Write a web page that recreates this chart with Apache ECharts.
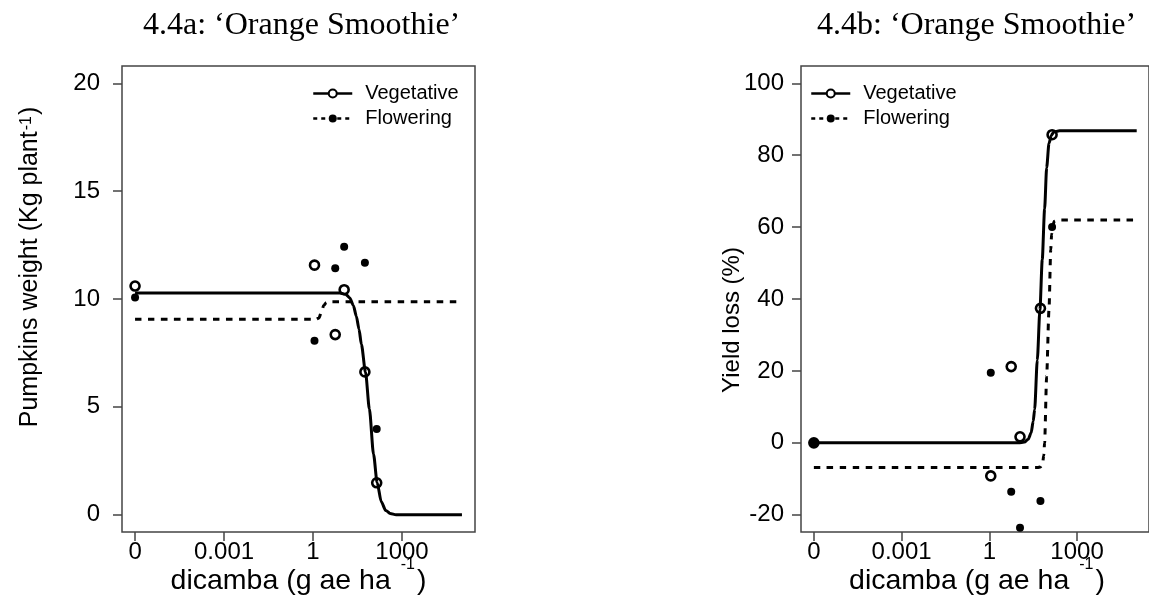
<!DOCTYPE html>
<html lang="en">
<head>
<meta charset="UTF-8">
<script src="https://cdn.jsdelivr.net/npm/echarts@6/dist/echarts.min.js"></script>
<style>
    * { margin: 0; padding: 0; }
    body { background: #fff; }
    #chart { width: 1149px; height: 598px; }
</style>
</head>
<body>
<div id="chart"></div>
<script>
    // dicamba doses (g ae ha-1), 0 sits on the broken log axis at 1e-6
    var doses = [0, 1.12, 5.6, 11.2, 56, 140];

    // 4.4a pumpkins weight (kg plant-1)
    var weightVeg  = [10.6, 11.57, 8.35, 10.43, 6.62, 1.48];
    var weightFlow = [10.07, 8.07, 11.42, 12.42, 11.68, 3.98];

    // 4.4b yield loss (%)
    var lossVeg  = [0, -9.2, 21.2, 1.67, 37.4, 85.7];
    var lossFlow = [0, 19.5, -13.6, -23.6, -16.2, 60.0];

    // fitted curves, x is log10(dose)
    var wVegCurveX  = [-6, 0.9, 1.1, 1.24, 1.36, 1.46, 1.55, 1.63, 1.77, 1.9, 2.04, 2.16, 2.3, 2.45, 2.6, 2.8, 5.02];
    var wVegCurveY  = [10.28, 10.28, 10.22, 10.05, 9.7, 9.2, 8.6, 7.9, 6.6, 4.9, 2.8, 1.5, 0.6, 0.2, 0.06, 0, 0];
    var wFlowCurveX = [-6, 0.1, 0.2, 0.28, 0.36, 0.45, 0.56, 5.02];
    var wFlowCurveY = [9.06, 9.06, 9.12, 9.4, 9.7, 9.84, 9.87, 9.87];

    var lVegCurveX  = [-6, 1.0, 1.2, 1.33, 1.43, 1.5, 1.55, 1.64, 1.73, 1.81, 1.89, 1.96, 2.04, 2.12, 2.2, 2.4, 5.04];
    var lVegCurveY  = [0, 0, 0.2, 1.0, 2.8, 6, 9.3, 23, 37, 51, 65, 76.5, 83.3, 85.5, 86.4, 86.8, 86.8];
    var lFlowCurveX = [-6, 1.65, 1.75, 1.82, 1.86, 1.89, 1.96, 2.04, 2.1, 2.13, 2.17, 2.22, 2.35, 5.04];
    var lFlowCurveY = [-6.86, -6.86, -6.7, -5.8, -3.5, 0, 18.5, 37, 53.7, 58, 60.5, 61.6, 62, 62];

    var xTickDoses  = [0, 0.001, 1, 1000];
    var xTickLabels = ['0', '0.001', '1', '1000'];
    var weightTicks = [0, 5, 10, 15, 20];
    var lossTicks   = [-20, 0, 20, 40, 60, 80, 100];

    var SANS = "'Liberation Sans', Arial, sans-serif";
    var SERIF = "'Liberation Serif', 'Times New Roman', serif";

    function pos(d) {
        return d === 0 ? -6 : Math.log10(d);
    }
    function zip(xs, ys) {
        var out = [];
        for (var i = 0; i < xs.length; i++) out.push([xs[i], ys[i]]);
        return out;
    }
    function pts(ys) {
        var out = [];
        for (var i = 0; i < doses.length; i++) out.push([pos(doses[i]), ys[i]]);
        return out;
    }
    var xTickPos = xTickDoses.map(pos);

    function xAxis(idx) {
        return {
            type: 'value', gridIndex: idx, min: -6.44, max: 5.46, position: 'bottom',
            axisLine: { show: false, onZero: false },
            splitLine: { show: false },
            axisTick: { show: true, customValues: xTickPos, length: 9, lineStyle: { color: '#444', width: 1.5 } },
            axisLabel: {
                customValues: xTickPos, margin: 8, fontSize: 24, fontFamily: SANS, color: '#000',
                formatter: function (v) {
                    for (var i = 0; i < xTickPos.length; i++) {
                        if (Math.abs(xTickPos[i] - v) < 1e-6) return xTickLabels[i];
                    }
                    return '';
                }
            }
        };
    }
    function yAxis(idx, min, max, ticks, margin) {
        return {
            type: 'value', gridIndex: idx, min: min, max: max, position: 'left',
            axisLine: { show: false, onZero: false },
            splitLine: { show: false },
            axisTick: { show: true, customValues: ticks, length: 9, lineStyle: { color: '#444', width: 1.5 } },
            axisLabel: { customValues: ticks, margin: margin, fontSize: 24, fontFamily: SANS, color: '#000' }
        };
    }

    function curve(name, idx, data, dashed) {
        return {
            name: name, type: 'line', xAxisIndex: idx, yAxisIndex: idx,
            data: data, smooth: 0.25, smoothMonotone: 'x',
            symbol: dashed ? 'circle' : 'emptyCircle', showSymbol: false,
            itemStyle: { color: '#000' },
            lineStyle: { color: '#000', width: 3, type: dashed ? [6.5, 6.5] : 'solid' },
            z: 2
        };
    }
    function points(name, idx, data, open) {
        return {
            name: name, type: 'scatter', xAxisIndex: idx, yAxisIndex: idx,
            data: data, symbol: 'circle', symbolSize: open ? 9 : 8,
            itemStyle: open
                ? { color: 'transparent', borderColor: '#000', borderWidth: 2.6, opacity: 1 }
                : { color: '#000', opacity: 1 },
            z: 3
        };
    }
    function legend(left) {
        return {
            orient: 'vertical', left: left, top: 76, itemWidth: 39, itemHeight: 10, itemGap: 0,
            textStyle: { fontSize: 20, fontFamily: SANS, color: '#000', lineHeight: 25, padding: [0, 0, 0, 8] },
            lineStyle: { width: 2.5 },
            data: [
                { name: 'Vegetative' },
                { name: 'Flowering', lineStyle: { type: [4, 4], width: 2.5 } }
            ]
        };
    }
    function xTitle(x) {
        return {
            type: 'text', x: x, y: 595.5,
            style: {
                text: '{m|dicamba (g ae ha }{s|-1}{m|)}', align: 'center', verticalAlign: 'bottom', fill: '#000',
                rich: {
                    m: { fontSize: 28.5, lineHeight: 28.5, fontFamily: SANS, verticalAlign: 'bottom' },
                    s: { fontSize: 16, lineHeight: 16, fontFamily: SANS, verticalAlign: 'bottom', padding: [0, 2, 23, 2] }
                }
            }
        };
    }

    var myChart = echarts.init(document.getElementById('chart'));

    var option = {
        animation: false,
        backgroundColor: '#fff',
        grid: [
            { left: 122, top: 66, width: 353, height: 466, show: true, borderColor: '#444', borderWidth: 1.5, backgroundColor: '#fff' },
            { left: 801, top: 66, width: 353, height: 466, show: true, borderColor: '#444', borderWidth: 1.5, backgroundColor: '#fff' }
        ],
        xAxis: [xAxis(0), xAxis(1)],
        yAxis: [
            yAxis(0, -0.8, 20.8, weightTicks, 22),
            yAxis(1, -24.8, 104.8, lossTicks, 17)
        ],
        legend: [legend(307), legend(805)],
        series: [
            curve('Vegetative', 0, zip(wVegCurveX, wVegCurveY), false),
            curve('Flowering', 0, zip(wFlowCurveX, wFlowCurveY), true),
            points('Vegetative obs', 0, pts(weightVeg), true),
            points('Flowering obs', 0, pts(weightFlow), false),
            curve('Vegetative', 1, zip(lVegCurveX, lVegCurveY), false),
            curve('Flowering', 1, zip(lFlowCurveX, lFlowCurveY), true),
            points('Vegetative obs', 1, pts(lossVeg), true),
            points('Flowering obs', 1, pts(lossFlow), false)
        ],
        graphic: [
            { type: 'text', x: 143, y: 25.5, style: { text: '4.4a: \u2018Orange Smoothie\u2019', fontSize: 32, fontFamily: SERIF, fill: '#000', align: 'left', verticalAlign: 'middle' } },
            { type: 'text', x: 817, y: 25.5, style: { text: '4.4b: \u2018Orange Smoothie\u2019', fontSize: 32, fontFamily: SERIF, fill: '#000', align: 'left', verticalAlign: 'middle' } },
            // y titles
            {
                type: 'text', x: 42.4, y: 267, rotation: Math.PI / 2,
                style: {
                    text: '{m|Pumpkins weight (Kg plant}{s|-1}{m|)}', align: 'center', verticalAlign: 'bottom', fill: '#000',
                    rich: {
                        m: { fontSize: 25, lineHeight: 25, fontFamily: SANS, verticalAlign: 'bottom' },
                        s: { fontSize: 16, lineHeight: 16, fontFamily: SANS, verticalAlign: 'bottom', padding: [0, 1, 8, 1] }
                    }
                }
            },
            { type: 'text', x: 732, y: 320, rotation: Math.PI / 2, style: { text: 'Yield loss (%)', fontSize: 24, fontFamily: SANS, fill: '#000', align: 'center', verticalAlign: 'middle' } },
            xTitle(298.5),
            xTitle(977)
        ]
    };

    myChart.setOption(option);
</script>
</body>
</html>
